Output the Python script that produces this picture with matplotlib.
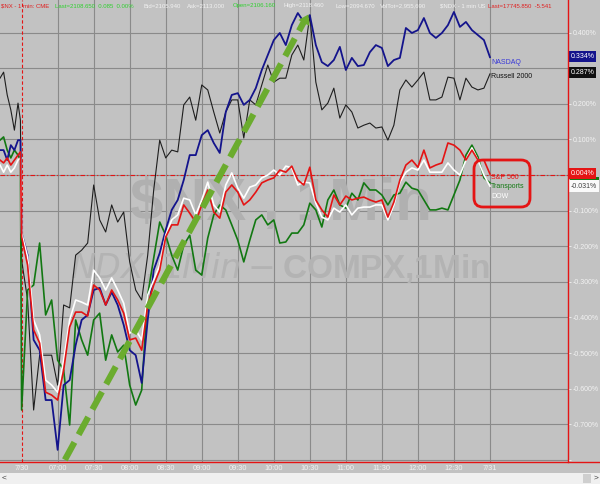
import matplotlib
matplotlib.use('Agg')
import matplotlib.pyplot as plt
import matplotlib.transforms as mtransforms
from matplotlib.patches import FancyBboxPatch, Rectangle
from matplotlib.lines import Line2D
import numpy as np

plt.rcParams['font.family'] = ['Liberation Sans', 'DejaVu Sans']

# ---------------- data (percent change) ----------------
prev_t = [-18, -15, -12, -9, -6, -3, -1]
day_t = list(range(0, 391, 5))

nasdaq_prev = [0.070, 0.070, 0.042, 0.084, 0.070, 0.098, 0.098]
nasdaq_day = [-0.163, -0.225, -0.463, -0.492, -0.632, -0.632, -0.772, -0.590, -0.576, -0.478,
              -0.407, -0.393, -0.323, -0.317, -0.365, -0.329, -0.365, -0.421, -0.492, -0.506,
              -0.584, -0.407, -0.267, -0.219, -0.154, -0.098, -0.070, -0.014, 0.056, 0.056,
              0.112, 0.126, 0.090, 0.062, 0.177, 0.225, 0.230, 0.197, 0.211, 0.244,
              0.295, 0.337, 0.379, 0.399, 0.365, 0.421, 0.455, 0.430, 0.449, 0.365,
              0.317, 0.306, 0.323, 0.360, 0.295, 0.329, 0.306, 0.309, 0.345, 0.365,
              0.357, 0.306, 0.323, 0.329, 0.413, 0.399, 0.407, 0.441, 0.399, 0.385,
              0.399, 0.421, 0.458, 0.416, 0.430, 0.407, 0.393, 0.379, 0.331]

russell_prev = [0.272, 0.289, 0.225, 0.183, 0.126, 0.202, 0.154]
russell_day = [-0.239, -0.351, -0.660, -0.506, -0.506, -0.506, -0.590, -0.365, -0.373, -0.225,
               -0.211, -0.191, -0.028, -0.126, -0.160, -0.084, -0.132, -0.104, -0.244, -0.323,
               -0.351, -0.225, -0.042, 0.098, 0.048, 0.070, 0.065, 0.197, 0.219, 0.154,
               0.253, 0.239, 0.177, 0.118, 0.177, 0.211, 0.211, 0.104, 0.211, 0.197,
               0.253, 0.309, 0.261, 0.272, 0.272, 0.337, 0.365, 0.323, 0.449, 0.261,
               0.183, 0.202, 0.244, 0.160, 0.197, 0.177, 0.132, 0.140, 0.146, 0.132,
               0.135, 0.098, 0.140, 0.239, 0.267, 0.247, 0.267, 0.289, 0.211, 0.211,
               0.219, 0.275, 0.272, 0.211, 0.272, 0.247, 0.239, 0.244, 0.284]

sp_prev = [0.042, 0.034, 0.048, 0.028, 0.042, 0.056, 0.065]
sp_day = [-0.174, -0.253, -0.435, -0.472, -0.610, -0.618, -0.632, -0.548, -0.427, -0.385,
          -0.385, -0.396, -0.309, -0.323, -0.365, -0.323, -0.351, -0.388, -0.463, -0.458,
          -0.492, -0.365, -0.309, -0.267, -0.174, -0.140, -0.140, -0.084, -0.107, -0.132,
          -0.084, -0.042, -0.104, -0.121, -0.048, -0.028, -0.048, -0.084, -0.070, -0.048,
          -0.022, -0.014, -0.008, 0.014, 0.008, 0.025, -0.014, -0.028, 0.022, -0.070,
          -0.098, -0.118, -0.056, -0.084, -0.059, -0.070, -0.065, -0.062, -0.070, -0.076,
          -0.070, -0.118, -0.076, -0.014, 0.028, 0.042, 0.022, 0.070, 0.020, 0.028,
          0.034, 0.090, 0.084, 0.070, 0.042, 0.070, 0.042, 0.042, 0.003]

dow_prev = [0.028, 0.008, 0.028, 0.008, 0.020, 0.042, 0.048]
dow_day = [-0.163, -0.230, -0.407, -0.449, -0.576, -0.590, -0.610, -0.520, -0.407, -0.351,
           -0.357, -0.365, -0.267, -0.289, -0.323, -0.289, -0.323, -0.360, -0.444, -0.435,
           -0.463, -0.337, -0.295, -0.253, -0.169, -0.126, -0.112, -0.065, -0.070, -0.112,
           -0.070, -0.020, -0.084, -0.104, -0.028, 0.006, -0.037, -0.065, -0.034, -0.028,
           -0.008, 0.000, 0.014, 0.000, 0.025, 0.020, -0.028, -0.020, -0.022, -0.079,
           -0.118, -0.126, -0.093, -0.104, -0.084, -0.112, -0.093, -0.090, -0.090, -0.084,
           -0.084, -0.126, -0.084, -0.020, 0.008, 0.020, 0.014, 0.042, 0.008, 0.008,
           0.008, 0.034, 0.014, 0.000, 0.042, 0.076, 0.042, 0.000, -0.031]

trans_prev = [0.098, 0.107, 0.070, 0.048, 0.070, 0.056, 0.042]
trans_day = [-0.660, -0.323, -0.309, -0.191, -0.393, -0.351, -0.520, -0.548, -0.702, -0.407,
             -0.463, -0.506, -0.407, -0.388, -0.520, -0.449, -0.497, -0.478, -0.590, -0.646,
             -0.604, -0.337, -0.233, -0.132, -0.169, -0.225, -0.267, -0.197, -0.169, -0.267,
             -0.281, -0.177, -0.112, -0.084, -0.098, -0.140, -0.183, -0.244, -0.183, -0.126,
             -0.112, -0.140, -0.126, -0.191, -0.188, -0.163, -0.163, -0.140, -0.079, -0.098,
             -0.146, -0.070, -0.042, -0.084, -0.093, -0.051, -0.070, -0.022, -0.042, -0.042,
             -0.056, -0.084, -0.056, -0.051, -0.020, -0.037, -0.042, -0.070, -0.098, -0.098,
             -0.093, -0.098, -0.056, -0.014, 0.056, 0.084, 0.051, -0.008, -0.022]

x_ticks = list(range(0, 391, 30))
x_labels = ['7/30', '07:00', '07:30', '08:00', '08:30', '09:00', '09:30', '10:00',
            '10:30', '11:00', '11:30', '12:00', '12:30', '7/31']
y_levels = [0.4, 0.3, 0.2, 0.1, 0.0, -0.1, -0.2, -0.3, -0.4, -0.5, -0.6, -0.7, -0.8]
y_hidden = [0.3, 0.0, -0.8]   # covered by badges / below the frame

series_names = ['NASDAQ', 'Russell 2000', 'S&P 500', 'Transports', 'DOW']
last_badges = ['0.334%', '0.287%', '0.004%', '', '-0.031%']
badge_levels = [0.334, 0.287, 0.004, -0.017, -0.031]

# arrow annotation (time, pct)
arrow_start = (36, -0.80)
arrow_end = (240, 0.458)

# ---------------- style ----------------
BG = '#c2c2c2'
GRID = '#8a8a8a'
RED = '#e41414'
NAVY = '#14148c'
GREEN = '#127812'
LIGHT = '#f2f2f2'

W, H = 600, 484
fig = plt.figure(figsize=(6, 4.84), dpi=100, facecolor=BG)
ax = fig.add_axes([0, 22 / H, 568 / W, 462 / H], facecolor=BG)
ax.set_xlim(-18, 455)
ax.set_ylim(-0.806, 0.4916)
for s in ax.spines.values():
    s.set_visible(False)

# grid
for y in y_levels:
    ax.axhline(y, color=GRID, lw=0.8, zorder=1)
for t in x_ticks[1:]:
    ax.axvline(t, color=GRID, lw=0.8, zorder=1)
ax.axvline(0, color=RED, lw=0.8, ls=(0, (3, 2)), zorder=2)
ax.axhline(0.0, color=RED, lw=0.8, ls=(0, (4, 2, 1, 2)), zorder=2)

# watermarks
ax.text(0.495, 0.558, '$NX , 1Min', transform=ax.transAxes, fontsize=43, fontweight='bold',
        color='#b0b0b0', ha='center', va='center', zorder=1.5)
ax.text(0.493, 0.42, '$NDX,1Min - $COMPX,1Min', transform=ax.transAxes, fontsize=24,
        fontweight='bold', color='#b3b3b3', ha='center', va='center', zorder=1.5)

# series
def full(p, d):
    return prev_t + day_t, p + d

tt, v = full(russell_prev, russell_day)
ax.plot(tt, v, color='#1e1e1e', lw=0.8, zorder=3)
tt, v = full(trans_prev, trans_day)
ax.plot(tt, v, color=GREEN, lw=1.2, zorder=4)
tt, v = full(nasdaq_prev, nasdaq_day)
ax.plot(tt, v, color=NAVY, lw=1.3, zorder=5)
tt, v = full(dow_prev, dow_day)
ax.plot(tt, v, color='white', lw=1.2, zorder=6)
tt, v = full(sp_prev, sp_day)
ax.plot(tt, v, color=RED, lw=1.2, zorder=7)

# series labels at line ends
label_y = [0.315, 0.278, -0.008, -0.031, -0.059]
label_c = ['#3838d8', '#111111', RED, GREEN, 'white']
for name, yy, c in zip(series_names, label_y, label_c):
    ax.text(day_t[-1] + 1, yy, name, fontsize=5, color=c, va='center', ha='left', zorder=8)

# green dashed trend arrow
ax.plot([arrow_start[0], arrow_end[0] - 4], [arrow_start[1], arrow_end[1] - 0.022],
        color='#6bac2e', lw=4.5, ls=(0, (3.2, 1.4)), solid_capstyle='butt', zorder=9)
ax.annotate('', xy=arrow_end, xytext=(arrow_end[0] - 8, arrow_end[1] - 0.05),
            arrowprops=dict(arrowstyle='-|>,head_length=0.7,head_width=0.45',
                            color='#6bac2e', lw=0), zorder=9)

# ticks
ax.set_xticks(x_ticks)
ax.set_xticklabels(x_labels)
ax.tick_params(axis='x', length=0, pad=2.5, labelsize=5.3, labelcolor=LIGHT)
ax.yaxis.tick_right()
ax.set_yticks(y_levels)
ylabs = []
for y in y_levels:
    if any(abs(y - h) < 1e-9 for h in y_hidden):
        ylabs.append('')
    else:
        ylabs.append(f'{y:.3f}%')
ax.set_yticklabels(ylabs)
ax.tick_params(axis='y', length=2.5, width=0.6, color=LIGHT, pad=1,
               labelsize=5, labelcolor=LIGHT)

# badges with last values
badge_bg = [NAVY, '#101010', RED, GREEN, '#fafafa']
badge_fg = ['white', 'white', 'white', 'white', '#404040']
tr = mtransforms.blended_transform_factory(ax.transAxes, ax.transData)
for i in [0, 1, 3, 4, 2]:
    if last_badges[i]:
        ax.text(1.004, badge_levels[i], last_badges[i], transform=tr, fontsize=5,
                color=badge_fg[i], va='center', ha='left', zorder=20, clip_on=False,
                bbox=dict(boxstyle='square,pad=0.3', facecolor=badge_bg[i], edgecolor='none'))
    else:
        ax.add_patch(Rectangle((1.004, badge_levels[i] - 0.012), 0.05, 0.024, transform=tr,
                               facecolor=badge_bg[i], edgecolor='none', zorder=19,
                               clip_on=False))

# red rounded highlight box
box = FancyBboxPatch((4.74, 2.77), 0.56, 0.47, boxstyle='round,pad=0,rounding_size=0.09',
                     transform=fig.dpi_scale_trans, facecolor='none', edgecolor=RED, lw=2.0,
                     zorder=30)
fig.add_artist(box)

# frame lines
fig.add_artist(Line2D([0, 1], [22 / H, 22 / H], color=RED, lw=1.0))
fig.add_artist(Line2D([568 / W, 568 / W], [22 / H, 1], color=RED, lw=1.0))

# scrollbar
fig.add_artist(Rectangle((0, 0), 1, 11 / H, transform=fig.transFigure, facecolor='#f0f0f0',
                         edgecolor='none'))
fig.add_artist(Rectangle((583 / W, 1 / H), 8 / W, 9 / H, transform=fig.transFigure,
                         facecolor='#cfcfcf', edgecolor='none'))
fig.text(4 / W, 5.5 / H, '<', fontsize=6, color='#404040', va='center', ha='center')
fig.text(596 / W, 5.5 / H, '>', fontsize=6, color='#404040', va='center', ha='center')

# header
header = [
    (1, '$NX - 1 min: CME', '#e02020'),
    (55, 'Last=2108.650  0.085  0.00%', '#30d030'),
    (143, 'Bid=2105.940', LIGHT),
    (187, 'Ask=2113.000', LIGHT),
    (233, 'Open=2106.160', '#30d030'),
    (283, 'High=2118.460', LIGHT),
    (335, 'Low=2094.670', LIGHT),
    (380, 'VolTot=2,955,690', LIGHT),
    (440, '$NDX - 1 min', LIGHT),
    (477, 'US', LIGHT),
    (488, 'Last=17745.850  -5.541', '#e02020'),
]
for xp, txt, c in header:
    fig.text(xp / W, 1 - 6 / H, txt, fontsize=4.3, color=c, va='center', ha='left', zorder=40)

fig.savefig('out.png', dpi=100, facecolor=BG)
